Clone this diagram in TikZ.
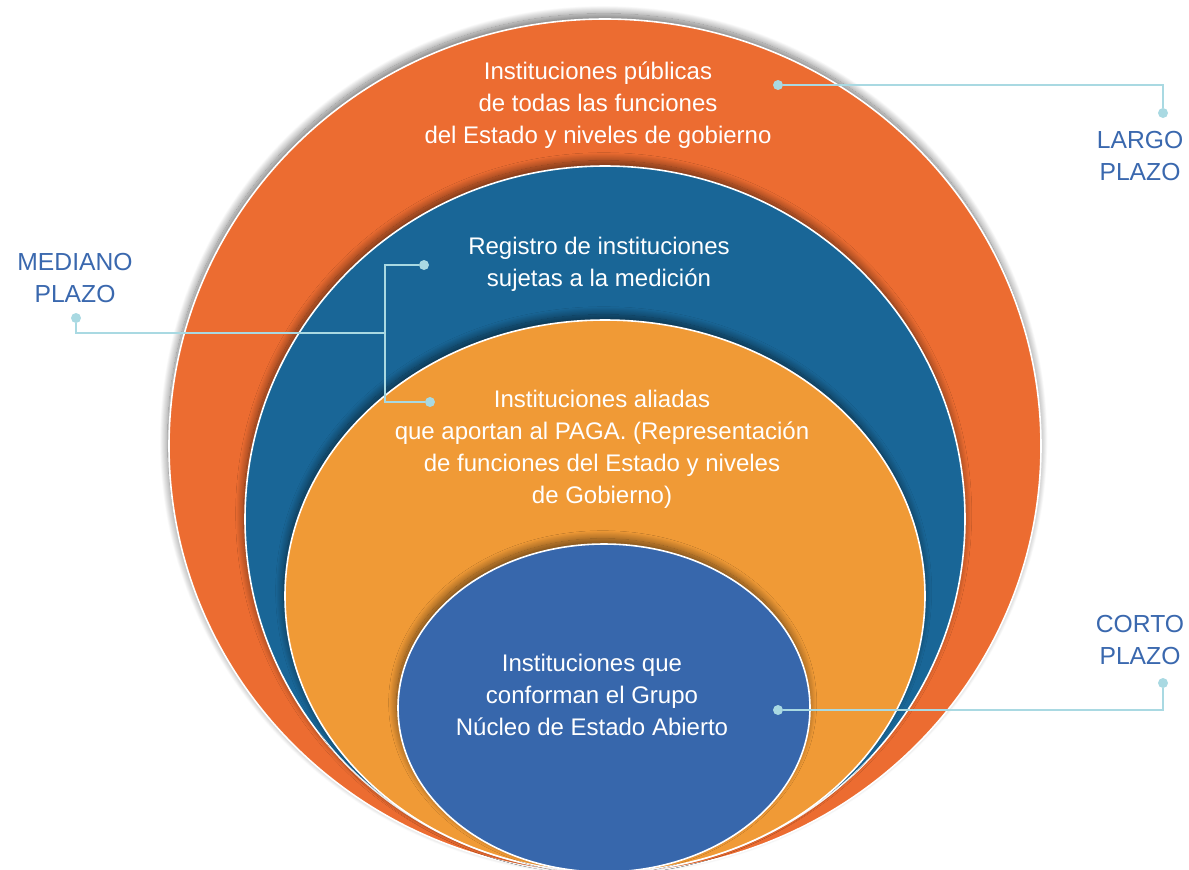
\documentclass[tikz,border=0pt]{standalone}
\usepackage{fontspec}
\setmainfont{Liberation Sans}
\usetikzlibrary{shadows.blur}
\definecolor{cOrange}{HTML}{EC6C31}
\definecolor{cTeal}{HTML}{196697}
\definecolor{cLight}{HTML}{F09A36}
\definecolor{cInner}{HTML}{3767AC}
\definecolor{cLabel}{HTML}{3A68AE}
\definecolor{cLine}{HTML}{A9D9E2}
\tikzset{
  ring/.style={draw=white, line width=1.2pt,
    blur shadow={shadow xshift=-1pt, shadow yshift=4pt, shadow blur radius=6pt, shadow blur steps=24, shadow opacity=55}},
  body/.style={text=white, align=center, font=\fontsize{18}{24}\selectfont, inner sep=0pt},
  lbl/.style={text=cLabel, align=center, font=\fontsize{18.5}{24}\selectfont, inner sep=0pt},
  dot/.style={circle, fill=cLine, inner sep=0pt, minimum size=7.5pt},
  conn/.style={draw=cLine, line width=1.9pt}
}
\begin{document}
\begin{tikzpicture}[x=0.75pt, y=-0.75pt]
\useasboundingbox (0,0) rectangle (1189,869);
% ellipses
\path[ring, fill=cOrange] (605,446) ellipse [x radius=436, y radius=427];
\path[ring, fill=cTeal] (605,519) ellipse [x radius=360, y radius=353];
\path[ring, fill=cLight] (605,596) ellipse [x radius=320, y radius=276];
\path[ring, fill=cInner] (604,708) ellipse [x radius=206, y radius=164];
% texts
\node[body] (tA) at (598,105) {Instituciones públicas\\de todas las funciones\\del Estado y niveles de gobierno};
\node[body] (tB) at (599,264) {Registro de instituciones\\sujetas a la medición};
\node[body] (tC) at (602,449) {Instituciones aliadas\\que aportan al PAGA. (Representación\\de funciones del Estado y niveles\\de Gobierno)};
\node[body] (tD) at (592,695) {Instituciones que\\conforman el Grupo\\Núcleo de Estado Abierto};
% labels
\node[lbl] (lL) at (1140,156) {LARGO\\PLAZO};
\node[lbl] (lM) at (75,278) {MEDIANO\\PLAZO};
\node[lbl] (lC) at (1140,640) {CORTO\\PLAZO};
% connector dots
\node[dot] (dL1) at (778,85) {};
\node[dot] (dL2) at (1163,113) {};
\node[dot] (dM) at (76,318) {};
\node[dot] (dR) at (424,265) {};
\node[dot] (dA) at (430,402) {};
\coordinate (jM) at (385,333);
\node[dot] (dC) at (1163,683) {};
\node[dot] (dN) at (778,710) {};
% connectors
\draw[conn] (dL1) -| (dL2);
\draw[conn] (dM) |- (jM);
\draw[conn] (dR) -| (jM) |- (dA);
\draw[conn] (dC) |- (dN);
\end{tikzpicture}
\end{document}
